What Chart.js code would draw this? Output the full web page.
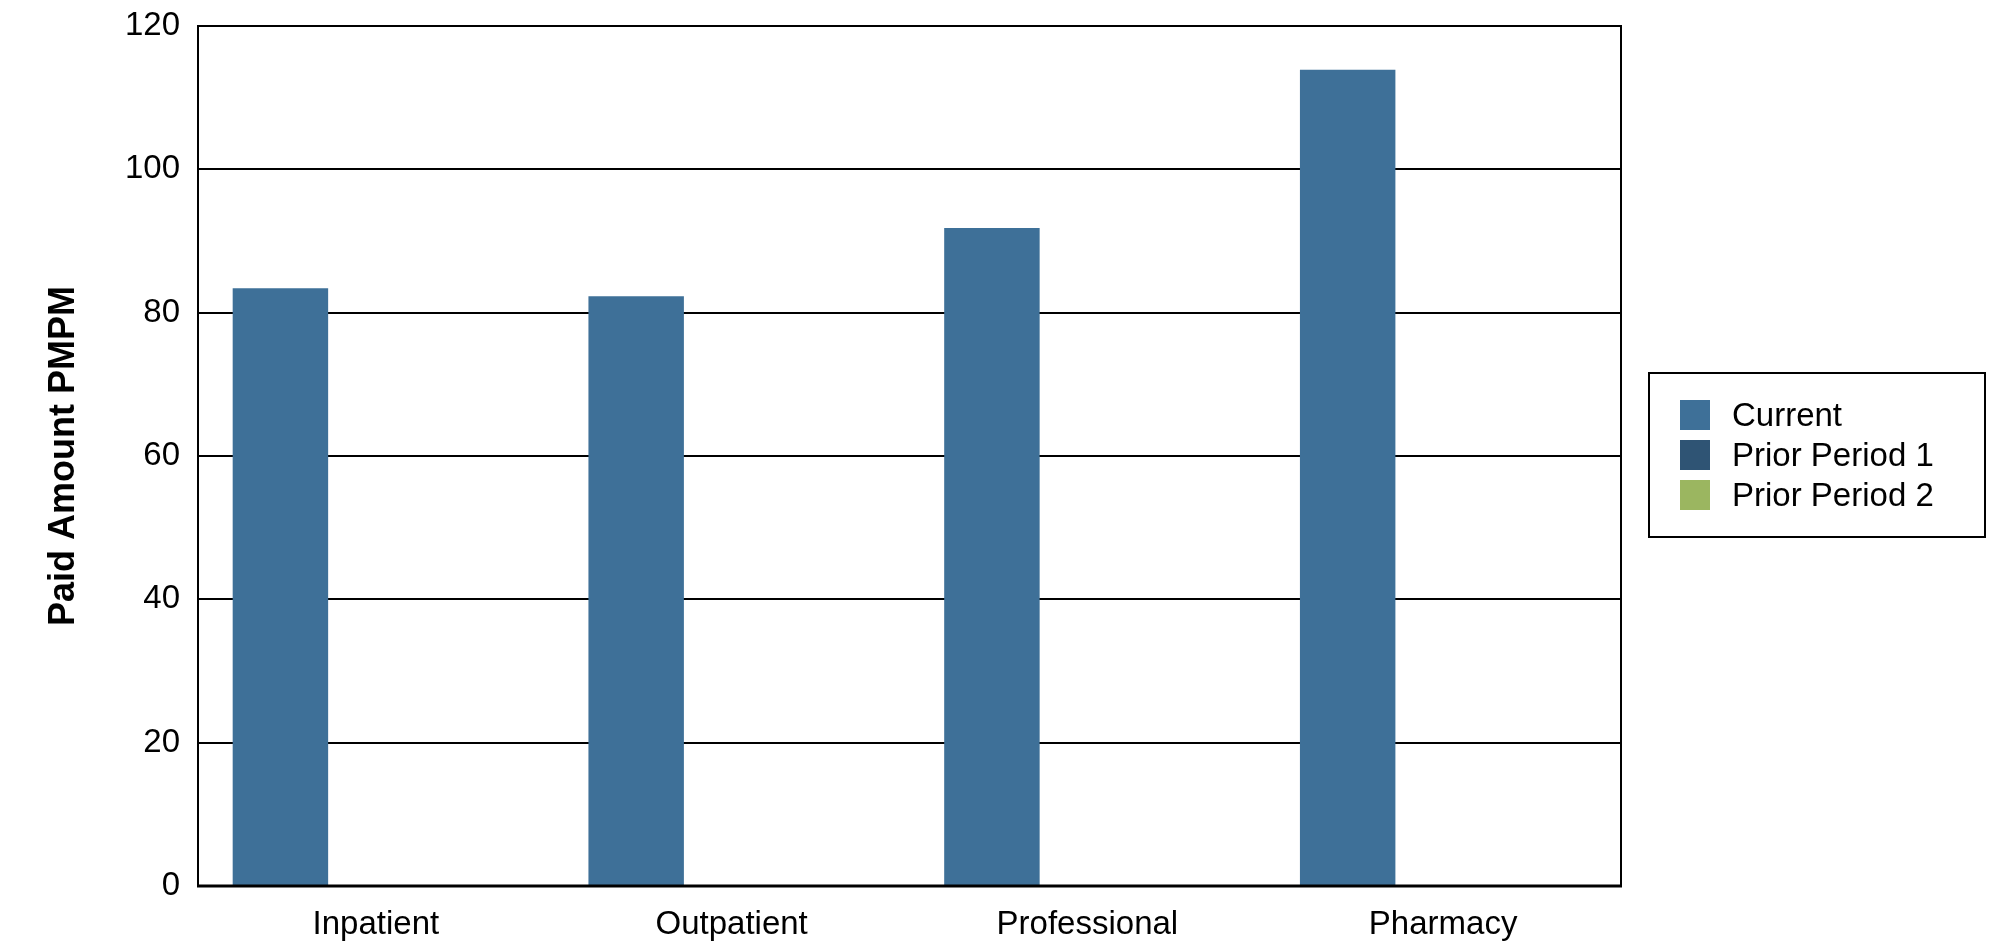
<!DOCTYPE html>
<html>
<head>
<meta charset="utf-8">
<script src="https://cdn.jsdelivr.net/npm/chart.js@4/dist/chart.umd.min.js"></script>
<style>
  html, body { margin: 0; padding: 0; background: #fff; }
  #wrap { position: relative; width: 1999px; height: 948px; }
  #chart { position: absolute; left: 0; top: 0; }
  #legend {
    position: absolute; left: 1648px; top: 372px; width: 338px; height: 166px;
    border: 2px solid #000; box-sizing: border-box;
    font-family: "Liberation Sans", Arial, sans-serif; font-size: 33px; color: #000;
  }
  #legend .item { position: absolute; left: 30px; height: 30px; display: flex; align-items: center; }
  #legend .sw { width: 30px; height: 30px; margin-right: 22px; flex: none; }
  #legend .lbl { white-space: nowrap; line-height: 30px; }
</style>
</head>
<body>
<div id="wrap">
  <canvas id="chart" width="1999" height="948"></canvas>
  <div id="legend"></div>
</div>
<script>
// Categories and series
const categories = ['Inpatient', 'Outpatient', 'Professional', 'Pharmacy'];
const currentValues = [83.4, 82.3, 91.8, 113.9];
const prior1Values = [0, 0, 0, 0];
const prior2Values = [0, 0, 0, 0];
const seriesNames = ['Current', 'Prior Period 1', 'Prior Period 2'];
const seriesColors = ['#3E7098', '#2F5474', '#9BB660'];
const yTicks = [0, 20, 40, 60, 80, 100, 120];

const FONT = '"Liberation Sans", Arial, sans-serif';

// Black frame around the plotting area
const framePlugin = {
  id: 'frame',
  afterDraw(chart) {
    const { ctx, chartArea: a } = chart;
    ctx.save();
    ctx.strokeStyle = '#000';
    ctx.lineWidth = 2;
    ctx.strokeRect(a.left, a.top, a.right - a.left, a.bottom - a.top);
    ctx.lineWidth = 3;
    ctx.beginPath();
    ctx.moveTo(a.left - 1, a.bottom);
    ctx.lineTo(a.right + 1, a.bottom);
    ctx.stroke();
    ctx.restore();
  }
};

const chart = new Chart(document.getElementById('chart'), {
  type: 'bar',
  data: {
    labels: categories,
    datasets: [
      { label: seriesNames[0], data: currentValues, backgroundColor: seriesColors[0] },
      { label: seriesNames[1], data: prior1Values, backgroundColor: seriesColors[1] },
      { label: seriesNames[2], data: prior2Values, backgroundColor: seriesColors[2] }
    ]
  },
  options: {
    responsive: false,
    animation: false,
    devicePixelRatio: 1,
    layout: { padding: { top: 26, right: 378, bottom: 0, left: 0 } },
    datasets: { bar: { categoryPercentage: 0.805, barPercentage: 1.0, borderWidth: 0 } },
    plugins: { legend: { display: false }, tooltip: { enabled: false } },
    scales: {
      x: {
        grid: { display: false, drawTicks: false },
        border: { display: false },
        ticks: { color: '#000', font: { family: FONT, size: 33 }, padding: 19, maxRotation: 0 },
        afterFit(scale) { scale.height = 62; scale.paddingLeft = 0; scale.paddingRight = 0; }
      },
      y: {
        min: 0, max: 120,
        afterBuildTicks(scale) { scale.ticks = yTicks.map(v => ({ value: v })); },
        grid: { color: '#000', lineWidth: 2, drawTicks: false },
        border: { display: false },
        ticks: { color: '#000', font: { family: FONT, size: 33 }, padding: 18 },
        title: {
          display: true, text: 'Paid Amount PMPM', color: '#000',
          font: { family: FONT, size: 36, weight: 'bold' },
          padding: { top: 42, bottom: 0 }
        },
        afterFit(scale) { scale.width = 198; scale.paddingTop = 0; scale.paddingBottom = 0; }
      }
    }
  },
  plugins: [framePlugin]
});

// Legend built from the chart's datasets
const legendEl = document.getElementById('legend');
const rowTops = [26, 66, 106];
chart.data.datasets.forEach((ds, i) => {
  const item = document.createElement('div');
  item.className = 'item';
  item.style.top = rowTops[i] + 'px';
  const sw = document.createElement('span');
  sw.className = 'sw';
  sw.style.background = ds.backgroundColor;
  const lbl = document.createElement('span');
  lbl.className = 'lbl';
  lbl.textContent = ds.label;
  item.appendChild(sw);
  item.appendChild(lbl);
  legendEl.appendChild(item);
});
</script>
</body>
</html>
